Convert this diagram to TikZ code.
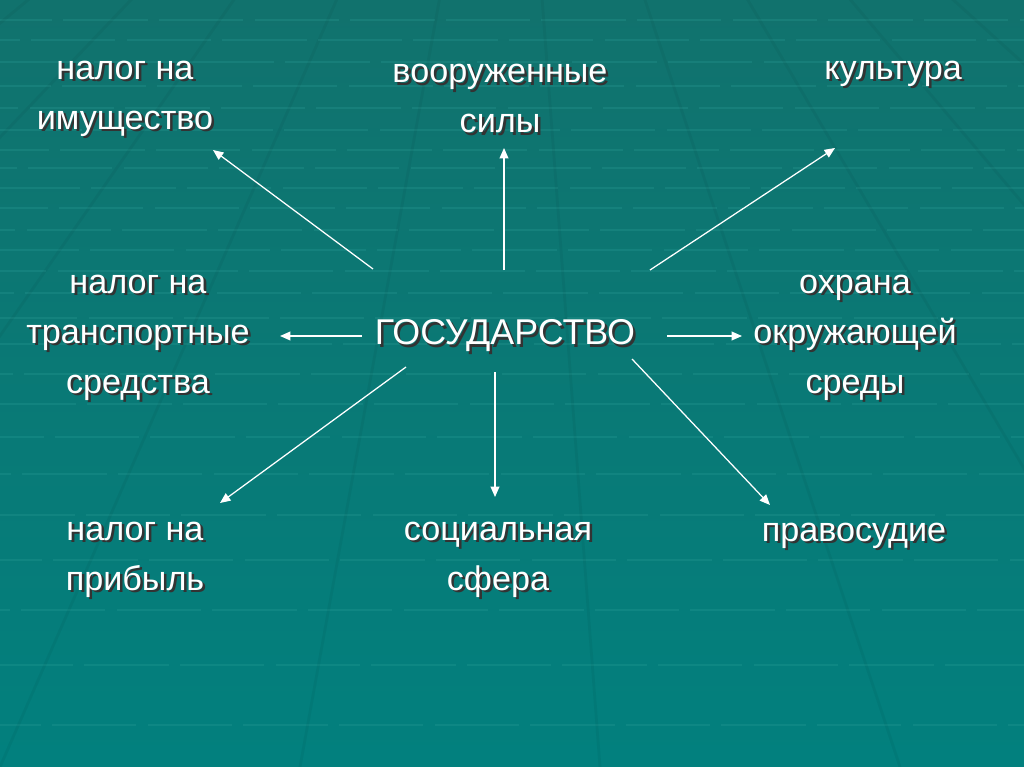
\documentclass[tikz,border=0pt]{standalone}
\usepackage{fontspec}
\setmainfont{Liberation Sans}
\usetikzlibrary{arrows.meta,positioning,calc}

\definecolor{bgtop}{HTML}{11726D}
\definecolor{bgmid}{HTML}{0C605E}
\definecolor{bgbot}{HTML}{02807E}
\definecolor{gridline}{HTML}{2FA29B}

% white text with a dark drop shadow
\newcommand{\shd}[1]{\makebox[0pt][l]{\hspace{1.8pt}\raisebox{-1.8pt}{\color{black!80}#1}}#1}

\begin{document}
\begin{tikzpicture}[
  x=0.025cm, y=-0.025cm,
  lbl/.style={text=white, align=center, inner sep=0pt, font=\fontsize{24.3}{35.6}\selectfont},
  arrow/.style={-{Triangle[length=2.6mm,width=2.2mm]}, white, line width=0.9pt},
  grid/.style={gridline, opacity=0.25, line width=1.2pt, dash pattern=on 60pt off 8pt}
]
% background
\shade[top color=bgtop, middle color=bgmid, bottom color=bgbot] (0,0) rectangle (1024,767);
\useasboundingbox (0,0) rectangle (1024,767);
\foreach \yy [count=\i] in {20,40,62,86,108,130,150,168,188,208,230,250,271,293,318,344,374,404,437,474,515,560,610,665,725}
  \draw[grid, dash phase=\i*23pt] (0,\yy) -- (1024,\yy);
\foreach \xx in {-900,-600,...,1900}
  \draw[black, opacity=0.045, line width=2pt] (512,-400) -- (\xx,767);

\node[lbl, font=\fontsize{25.5}{35.6}\selectfont] (G) at (505,337) {\shd{ГОСУДАРСТВО}};
\node[lbl] (A) at (125,100) {\shd{налог на}\\\shd{имущество}};
\node[lbl] (B) at (500,100) {\shd{вооруженные}\\\shd{силы}};
\node[lbl] (C) at (893,75) {\shd{культура}};
\node[lbl] (D) at (138,339) {\shd{налог на}\\\shd{транспортные}\\\shd{средства}};
\node[lbl] (E) at (855,339) {\shd{охрана}\\\shd{окружающей}\\\shd{среды}};
\node[lbl] (F) at (135,561) {\shd{налог на}\\\shd{прибыль}};
\node[lbl] (H) at (498,561) {\shd{социальная}\\\shd{сфера}};
\node[lbl] (I) at (854,537) {\shd{правосудие}};

\draw[arrow] ($(G)+(-132,-68)$) -- ($(A)+(88,50)$);
\draw[arrow] ($(G)+(-1,-67)$) -- ($(B)+(4,48)$);
\draw[arrow] ($(G)+(145,-67)$) -- ($(C)+(-58,73)$);
\draw[arrow] ($(G)+(-143,-1)$) -- ($(D)+(142,-3)$);
\draw[arrow] ($(G)+(162,-1)$) -- ($(E)+(-113,-3)$);
\draw[arrow] ($(G)+(-99,30)$) -- ($(F)+(85,-58)$);
\draw[arrow] ($(G)+(-10,35)$) -- ($(H)+(-3,-64)$);
\draw[arrow] ($(G)+(127,22)$) -- ($(I)+(-84,-32)$);
\end{tikzpicture}
\end{document}
